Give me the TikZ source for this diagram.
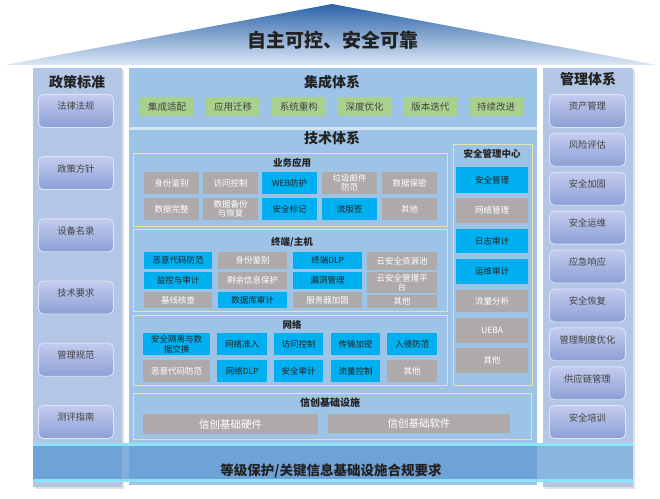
\documentclass[tikz,border=0pt]{standalone}
\usepackage{fontspec}
\setmainfont{Noto Sans CJK SC}
\definecolor{colbg}{HTML}{B4C6E6}
\definecolor{panelbg}{HTML}{9DC3E6}
\definecolor{sepline}{HTML}{D3E4F4}
\definecolor{subline}{HTML}{E8E3A6}
\definecolor{greenbox}{HTML}{A9D18E}
\definecolor{graybox}{HTML}{AEAAAA}
\definecolor{bluebox}{HTML}{00B0F0}
\definecolor{bandbg}{HTML}{6FA2D6}
\definecolor{bandline}{HTML}{8DE3F7}
\definecolor{itemtop}{HTML}{C3CCEE}
\definecolor{itembot}{HTML}{8D9FD5}
\definecolor{itemline}{HTML}{DDE5F8}
\definecolor{rooftop}{HTML}{2A62A8}
\definecolor{roofmid}{HTML}{80AADA}
\definecolor{roofbot}{HTML}{DCE8F5}
\definecolor{stripblue}{HTML}{7E9FC4}
\definecolor{txt}{HTML}{222222}
\begin{document}
\begin{tikzpicture}[x=1pt,y=-1pt,
  title/.style={font=\bfseries\fontsize{14}{16}\selectfont,text=txt},
  subtitle/.style={font=\bfseries\fontsize{9.5}{11}\selectfont,text=txt},
  cell/.style={anchor=north west,inner sep=0pt,align=center,font=\fontsize{8.5}{9.5}\selectfont},
  graycell/.style={cell,fill=graybox,text=white},
  bluecell/.style={cell,fill=bluebox,text=txt},
  greencell/.style={cell,fill=greenbox,text=txt!85,minimum width=54pt,minimum height=19pt,font=\fontsize{9.5}{11}\selectfont},
  sidebox/.style={anchor=north west,inner sep=0pt,minimum width=75pt,text height=15.5pt,text depth=17.5pt,rounded corners=5pt,top color=itemtop,bottom color=itembot,draw=itemline,line width=0.8pt,text=txt!85,font=\fontsize{9.3}{11}\selectfont},
  panel/.style={draw=subline,line width=1pt,fill=panelbg}]
  \useasboundingbox (0,0) rectangle (660,498);
  \shade[top color=rooftop,middle color=roofmid,bottom color=roofbot] (5,65) -- (332,4) -- (657,65) -- cycle;
  \node[font=\bfseries\fontsize{19}{21}\selectfont,text=txt] (roof) at (333,40) {自主可控、安全可靠};
  \fill[black!12] (35,70) rectangle (124,489);
  \fill[colbg] (33,68) rectangle (122,487);
  \fill[black!12] (545,70) rectangle (635,489);
  \fill[colbg] (543,68) rectangle (633,487);
  \fill[panelbg] (129,68) rectangle (537,127);
  \fill[sepline] (129,127) rectangle (537,130);
  \fill[panelbg] (129,130) rectangle (537,485);
  \node[title] (poltitle) at (77,82) {政策标准};
  \foreach \t [count=\i from 0] in {法律法规,政策方针,设备名录,技术要求,管理规范,测评指南}
    \node[sidebox] (pol\i) at (38,94+62.2*\i) {\t};
  \node[title] (mgttitle) at (588,79) {管理体系};
  \foreach \t [count=\i from 0] in {资产管理,风险评估,安全加固,安全运维,应急响应,安全恢复,管理制度优化,供应链管理,安全培训}
    \node[sidebox,minimum width=76pt] (mgt\i) at (549,94+38.9*\i) {\t};
  \node[title] (inttitle) at (332,82) {集成体系};
  \foreach \t [count=\i from 0] in {集成适配,应用迁移,系统重构,深度优化,版本迭代,持续改进}
    \node[greencell] (int\i) at (140+65.8*\i,97) {\t};
  \node[title] (techtitle) at (332,138) {技术体系};
  \draw[panel] (133,153) rectangle (447,226);
  \shade[top color=panelbg,middle color=stripblue,bottom color=panelbg] (148,156) rectangle (445,169);
  \node[subtitle] (biztitle) at (292,163) {业务应用};
  \foreach \x/\y/\s/\t [count=\n] in {144/172/graycell/身份鉴别,203/172/graycell/访问控制,262/172/bluecell/WEB防护,322/172/graycell/{垃圾邮件\\防范},382/172/graycell/数据保密,
    144/198/graycell/数据完整,203/198/graycell/{数据备份\\与恢复},262/198/bluecell/安全标记,322/198/bluecell/流版签,382/198/graycell/其他}
    \node[\s,minimum width=55pt,minimum height=21.5pt] (biz\n) at (\x,\y) {\t};
  \draw[panel] (133,229) rectangle (447,311);
  \node[subtitle] (hosttitle) at (292,242) {终端/主机};
  \foreach \x/\y/\w/\h/\s/\t [count=\n] in {144/252/68/17/bluecell/恶意代码防范,218/252/69/17/graycell/身份鉴别,293/252/69/17/bluecell/终端DLP,367/252/70/18/graycell/云安全资源池,
    144/272/68/17/bluecell/监控与审计,218/272/69/17/graycell/剩余信息保护,293/272/69/17/bluecell/漏洞管理,367/272/70/21/graycell/{云安全管理平\\台},
    144/292/68/16/graycell/基线核查,218/292/69/16/bluecell/数据库审计,293/292/69/16/graycell/服务器加固,367/295/70/13/graycell/其他}
    \node[\s,minimum width=\w pt,minimum height=\h pt] (host\n) at (\x,\y) {\t};
  \draw[panel] (133,315) rectangle (447,385);
  \node[subtitle] (nettitle) at (292,325) {网络};
  \foreach \x/\y/\w/\s/\t [count=\n] in {143/333/67/bluecell/{安全隔离与数\\据交换},217/333/50/bluecell/网络准入,274/333/49/bluecell/访问控制,331/333/49/bluecell/传输加密,387/333/50/bluecell/入侵防范,
    143/360/67/graycell/恶意代码防范,217/360/50/bluecell/网络DLP,274/360/49/bluecell/安全审计,331/360/49/bluecell/流量控制,387/360/50/graycell/其他}
    \node[\s,minimum width=\w pt,minimum height=22pt] (net\n) at (\x,\y) {\t};
  \draw[panel] (453,144) rectangle (532,385);
  \node[subtitle] (soctitle) at (492,154) {安全管理中心};
  \foreach \y/\h/\s/\t [count=\n] in {167/26/bluecell/安全管理,198/25/graycell/网络管理,229/24/bluecell/日志审计,259/25/bluecell/运维审计,290/22/graycell/流量分析,318/25/graycell/UEBA,348/25/graycell/其他}
    \node[\s,minimum width=72pt,minimum height=\h pt] (soc\n) at (456,\y) {\t};
  \draw[panel] (133,393) rectangle (531,439);
  \node[subtitle,font=\bfseries\fontsize{10}{12}\selectfont] (xctitle) at (330,403) {信创基础设施};
  \node[graycell,minimum width=175pt,minimum height=20pt,font=\fontsize{10.5}{12}\selectfont] (xchw) at (143,414) {信创基础硬件};
  \node[graycell,minimum width=182pt,minimum height=19pt,font=\fontsize{10.5}{12}\selectfont] (xcsw) at (328,414) {信创基础软件};
  \fill[bandbg] (33,443) rectangle (633,482);
  \fill[bandline] (33,443) rectangle (633,446);
  \fill[bandline] (33,479) rectangle (633,482);
  \fill[white,opacity=0.15] (122,446) rectangle (129,479);
  \fill[white,opacity=0.2] (537,446) rectangle (633,479);
  \node[font=\bfseries\fontsize{13.5}{15}\selectfont,text=txt] (band) at (331,471) {等级保护/关键信息基础设施合规要求};
\end{tikzpicture}
\end{document}
